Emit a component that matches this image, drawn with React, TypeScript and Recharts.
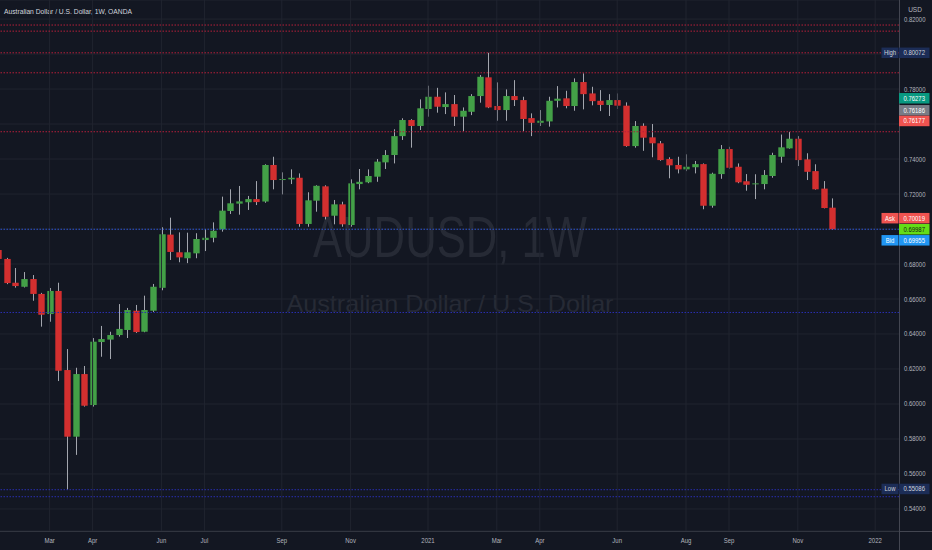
import { Bar, CartesianGrid, ComposedChart, ReferenceLine, XAxis, YAxis } from "recharts";

// weeks counted from the week of 2021-01-04
const firstWeek = -50;
const lastWeek = 54;

const opens = [
  0.688, 0.6829, 0.6693, 0.667, 0.6714, 0.6629, 0.6514, 0.6646, 0.6194, 0.5813,
  0.6171, 0.5994, 0.6354, 0.6368, 0.6394, 0.6423, 0.6533, 0.6413, 0.6533, 0.6664,
  0.6968, 0.6867, 0.6833, 0.6861, 0.6937, 0.695, 0.6998, 0.7103, 0.7145, 0.7153,
  0.7171, 0.7157, 0.7366, 0.728, 0.7284, 0.7293, 0.7029, 0.7162, 0.7244, 0.7076,
  0.7141, 0.7023, 0.7257, 0.7267, 0.7299, 0.7381, 0.7423, 0.7531, 0.7623, 0.7589,
  0.7686, 0.7756, 0.7697, 0.7714, 0.7642, 0.767, 0.776, 0.7867, 0.7703, 0.768,
  0.776, 0.7737, 0.7634, 0.7607, 0.7615, 0.7733, 0.7747, 0.7703, 0.784, 0.7775,
  0.7733, 0.7709, 0.7737, 0.7705, 0.7474, 0.759, 0.7524, 0.749, 0.74, 0.7366,
  0.7341, 0.7353, 0.7371, 0.7133, 0.7314, 0.7457, 0.7356, 0.7273, 0.7256, 0.7257,
  0.7303, 0.7413, 0.7461, 0.7516, 0.7398, 0.7331, 0.7231, 0.7122,
];
const highs = [
  0.689, 0.6835, 0.6777, 0.6754, 0.6737, 0.6635, 0.6663, 0.6693, 0.6314, 0.6207,
  0.6217, 0.6377, 0.6446, 0.6413, 0.6571, 0.6549, 0.6566, 0.6619, 0.6686, 0.701,
  0.7065, 0.6981, 0.6979, 0.6976, 0.7, 0.7038, 0.7185, 0.7227, 0.7246, 0.7189,
  0.7274, 0.737, 0.7413, 0.7324, 0.7341, 0.7318, 0.721, 0.725, 0.725, 0.7166,
  0.7156, 0.7284, 0.7343, 0.7341, 0.74, 0.7451, 0.757, 0.7633, 0.7628, 0.7741,
  0.7819, 0.7807, 0.7781, 0.7766, 0.7695, 0.7771, 0.788, 0.80072, 0.7838, 0.7798,
  0.7851, 0.7756, 0.7661, 0.768, 0.7756, 0.7817, 0.779, 0.7861, 0.789, 0.7813,
  0.7794, 0.7771, 0.7775, 0.7724, 0.7617, 0.7604, 0.76, 0.7503, 0.741, 0.7413,
  0.7427, 0.7389, 0.7375, 0.7322, 0.748, 0.747, 0.7375, 0.7314, 0.7313, 0.7337,
  0.7436, 0.754, 0.7555, 0.7531, 0.7433, 0.737, 0.7274, 0.7175,
];
const lows = [
  0.6822, 0.6685, 0.6665, 0.6666, 0.659, 0.6442, 0.647, 0.6131, 0.55086, 0.5709,
  0.5985, 0.5985, 0.627, 0.6257, 0.6385, 0.6377, 0.6406, 0.641, 0.6526, 0.665,
  0.6823, 0.681, 0.6805, 0.6833, 0.6874, 0.6924, 0.6985, 0.7086, 0.7082, 0.7109,
  0.7137, 0.715, 0.7227, 0.7198, 0.7257, 0.7013, 0.7013, 0.7099, 0.7055, 0.7027,
  0.7013, 0.7013, 0.7227, 0.7262, 0.727, 0.7343, 0.7375, 0.7509, 0.7465, 0.7566,
  0.7642, 0.7665, 0.7657, 0.7589, 0.756, 0.7651, 0.7722, 0.7691, 0.7619, 0.7619,
  0.7703, 0.756, 0.7531, 0.7589, 0.7585, 0.7695, 0.769, 0.7676, 0.7684, 0.7707,
  0.7674, 0.7646, 0.7686, 0.747, 0.7465, 0.7447, 0.741, 0.739, 0.729, 0.7318,
  0.7331, 0.7318, 0.7113, 0.7122, 0.7287, 0.7345, 0.7262, 0.7219, 0.7171, 0.7227,
  0.7293, 0.7379, 0.7459, 0.736, 0.728, 0.7225, 0.7118, 0.6995,
];
const closes = [
  0.6829, 0.6691, 0.6674, 0.6714, 0.6629, 0.651, 0.6646, 0.619, 0.5813, 0.6171,
  0.599, 0.6356, 0.6371, 0.6394, 0.6429, 0.6537, 0.6411, 0.6537, 0.667, 0.697,
  0.6869, 0.6838, 0.6867, 0.6943, 0.695, 0.699, 0.7105, 0.7147, 0.7158, 0.7171,
  0.7154, 0.7366, 0.728, 0.7286, 0.7293, 0.7029, 0.7164, 0.7247, 0.707, 0.7141,
  0.7027, 0.7261, 0.727, 0.7303, 0.7385, 0.7423, 0.7531, 0.7623, 0.7589, 0.769,
  0.7756, 0.7699, 0.7714, 0.7642, 0.7676, 0.776, 0.787, 0.7695, 0.768, 0.776,
  0.7737, 0.7629, 0.7607, 0.7619, 0.7733, 0.7745, 0.7703, 0.784, 0.7771, 0.7731,
  0.7709, 0.7737, 0.7705, 0.7474, 0.7589, 0.7522, 0.749, 0.7394, 0.7364, 0.7341,
  0.7356, 0.7371, 0.7133, 0.7316, 0.7457, 0.735, 0.7267, 0.7253, 0.7261, 0.7309,
  0.7423, 0.7467, 0.7516, 0.7394, 0.7327, 0.7227, 0.712, 0.69987,
];

const tickWeeks = [-44, -39, -31, -26, -17, -9, 0, 8, 13, 22, 30, 35, 43, 52];
const tickLabels = ["Mar", "Apr", "Jun", "Jul", "Sep", "Nov", "2021", "Mar", "Apr", "Jun", "Aug", "Sep", "Nov", "2022"];

const priceTicks = [0.54, 0.56, 0.58, 0.6, 0.62, 0.64, 0.66, 0.68, 0.7, 0.72, 0.74, 0.76, 0.78, 0.8, 0.82];
const hiddenPriceTicks = [0.7, 0.76, 0.8];

const redLevels = [0.8166, 0.8131, 0.80072, 0.7893, 0.7556];
const blueLevels = [0.6523, 0.551, 0.547];
const lastPrice = 0.69987;

const tagValues = [0.80072, 0.76273, 0.76186, 0.76177, 0.70019, 0.69987, 0.69955, 0.55086];
const tagNames = ["High", "", "", "", "Ask", "", "Bid", "Low"];

// styling for the tags (kept apart from the values)
const tagFill = ["#1c2d57", "#089981", "#787b86", "#ef5350", "#ef5350", "#64dd17", "#2196f3", "#1c2d57"];
const tagInk = ["#d1d4dc", "#ffffff", "#ffffff", "#ffffff", "#ffffff", "#132013", "#ffffff", "#d1d4dc"];
const tagShift = [0, -21, -10.5, 0, -10.5, 0, 10.5, -1];

const data = [] as any[];
for (let w = firstWeek; w <= lastWeek; w++) {
  const i = w - firstWeek;
  const has = i < opens.length;
  data.push({
    week: w,
    range: has ? [lows[i], highs[i]] : null,
    o: has ? opens[i] : null,
    h: has ? highs[i] : null,
    l: has ? lows[i] : null,
    c: has ? closes[i] : null,
  });
}

const BG = "#131722";
const FONT = "'Liberation Sans', Arial, sans-serif";

function Candle(props: any) {
  const { x, y, width, height, payload } = props;
  if (!payload || payload.o == null || !isFinite(y) || !isFinite(height)) return <g />;
  const top = Math.min(y, y + height);
  const bot = Math.max(y, y + height);
  const k = (bot - top) / (payload.h - payload.l);
  const yo = top + (payload.h - payload.o) * k;
  const yc = top + (payload.h - payload.c) * k;
  const cx = Math.round(x + width / 2) + 0.5;
  const up = payload.c >= payload.o;
  const bw = 6.4;
  return (
    <g>
      <line x1={cx} x2={cx} y1={top} y2={bot} stroke="#a3a6ae" strokeWidth={1} />
      <rect
        x={cx - bw / 2}
        y={Math.min(yo, yc)}
        width={bw}
        height={Math.max(1, Math.abs(yc - yo))}
        fill={up ? "#43a047" : "#d32f2f"}
      />
    </g>
  );
}

function XTick(props: any) {
  const { x, y, payload } = props;
  const i = tickWeeks.indexOf(payload.value);
  if (i < 0) return <g />;
  return (
    <text
      transform={`translate(${x},${y + 12}) scale(0.75,1)`}
      textAnchor="middle"
      fontSize={8}
      fontFamily={FONT}
      fill="#b2b5be"
    >
      {tickLabels[i]}
    </text>
  );
}

function YTick(props: any) {
  const { x, y, payload } = props;
  if (hiddenPriceTicks.some((v) => Math.abs(v - payload.value) < 1e-6)) return <g />;
  return (
    <text
      transform={`translate(${x},${y + 2.5}) scale(0.85,1)`}
      fontSize={7}
      fontFamily={FONT}
      fill="#b2b5be"
    >
      {payload.value.toFixed(5)}
    </text>
  );
}

function Tag(props: any) {
  const { viewBox, idx } = props;
  if (!viewBox) return <g />;
  const right = viewBox.x + viewBox.width;
  const cy = viewBox.y + tagShift[idx];
  const h = 10.5;
  const name = tagNames[idx];
  return (
    <g>
      {name && (
        <g>
          <rect x={right - 17.5} y={cy - h / 2} width={17} height={h} fill={tagFill[idx]} />
          <text
            transform={`translate(${right - 9},${cy + 2.5}) scale(0.85,1)`}
            textAnchor="middle"
            fontSize={7}
            fontFamily={FONT}
            fill={tagInk[idx]}
          >
            {name}
          </text>
        </g>
      )}
      <rect x={right} y={cy - h / 2} width={30.5} height={h} fill={tagFill[idx]} />
      <text
        transform={`translate(${right + 4.5},${cy + 2.5}) scale(0.85,1)`}
        fontSize={7}
        fontFamily={FONT}
        fill={tagInk[idx]}
      >
        {tagValues[idx].toFixed(5)}
      </text>
    </g>
  );
}

export default function App() {
  return (
    <div
      style={{
        position: "fixed",
        left: 0,
        top: 0,
        width: 932,
        height: 550,
        overflow: "hidden",
        background: BG,
      }}
    >
      <svg width={932} height={550} style={{ position: "absolute", left: 0, top: 0 }}>
        <text x={4} y={13.5} fontSize={7.5} fontFamily={FONT} fill="#d1d4dc" textLength={128} lengthAdjust="spacingAndGlyphs">
          Australian Dollar / U.S. Dollar, 1W, OANDA
        </text>
        <text x={915} y={12} fontSize={6.5} fontFamily={FONT} fill="#b2b5be" textAnchor="middle">
          USD
        </text>
        <text x={450} y={257} fontSize={58} fontFamily={FONT} fill="#262a35" textAnchor="middle" textLength={274} lengthAdjust="spacingAndGlyphs">
          AUDUSD, 1W
        </text>
        <text x={450} y={311.5} fontSize={24} fontFamily={FONT} fill="#262a35" textAnchor="middle" textLength={327} lengthAdjust="spacingAndGlyphs">
          Australian Dollar / U.S. Dollar
        </text>
      </svg>
      <div style={{ position: "absolute", left: 0, top: 531, width: 932, height: 1, background: "#434651" }} />
      <div style={{ position: "absolute", left: 899, top: 0, width: 1, height: 550, background: "#434651" }} />
      <div style={{ position: "absolute", left: -7, top: 0 }}>
        <ComposedChart
          width={939}
          height={550}
          data={data}
          margin={{ top: 0, right: 0, bottom: 0, left: 0.7 }}
          barCategoryGap={0}
        >
          <CartesianGrid stroke="#20242f" vertical={false} />
          {tickWeeks.map((w) => (
            <ReferenceLine key={"g" + w} x={w} stroke="#20242f" />
          ))}
          <XAxis
            dataKey="week"
            type="category"
            ticks={tickWeeks}
            interval={0}
            height={19}
            tickLine={false}
            axisLine={false}
            tickSize={0}
            tickMargin={0}
            padding={{ left: 0, right: 2.3 }}
            tick={<XTick />}
          />
          <YAxis
            orientation="right"
            type="number"
            domain={[0.5274, 0.8309]}
            allowDataOverflow
            ticks={priceTicks}
            interval={0}
            width={33}
            tickLine={false}
            axisLine={false}
            tickSize={0}
            tickMargin={5}
            tick={<YTick />}
          />
          {redLevels.map((v) => (
            <ReferenceLine key={"r" + v} y={v} stroke="#b51f3a" strokeDasharray="1.5 1.5" />
          ))}
          {blueLevels.map((v) => (
            <ReferenceLine key={"b" + v} y={v} stroke="#2a2fb0" strokeDasharray="1.5 1.5" />
          ))}
          <ReferenceLine y={lastPrice} stroke="#2f56d6" strokeDasharray="1.5 1.5" />
          <Bar dataKey="range" shape={<Candle />} isAnimationActive={false} />
          {tagValues.map((v, i) => (
            <ReferenceLine
              key={"t" + i}
              y={v}
              stroke="none"
              ifOverflow="visible"
              label={<Tag idx={i} />}
            />
          ))}
        </ComposedChart>
      </div>
    </div>
  );
}
